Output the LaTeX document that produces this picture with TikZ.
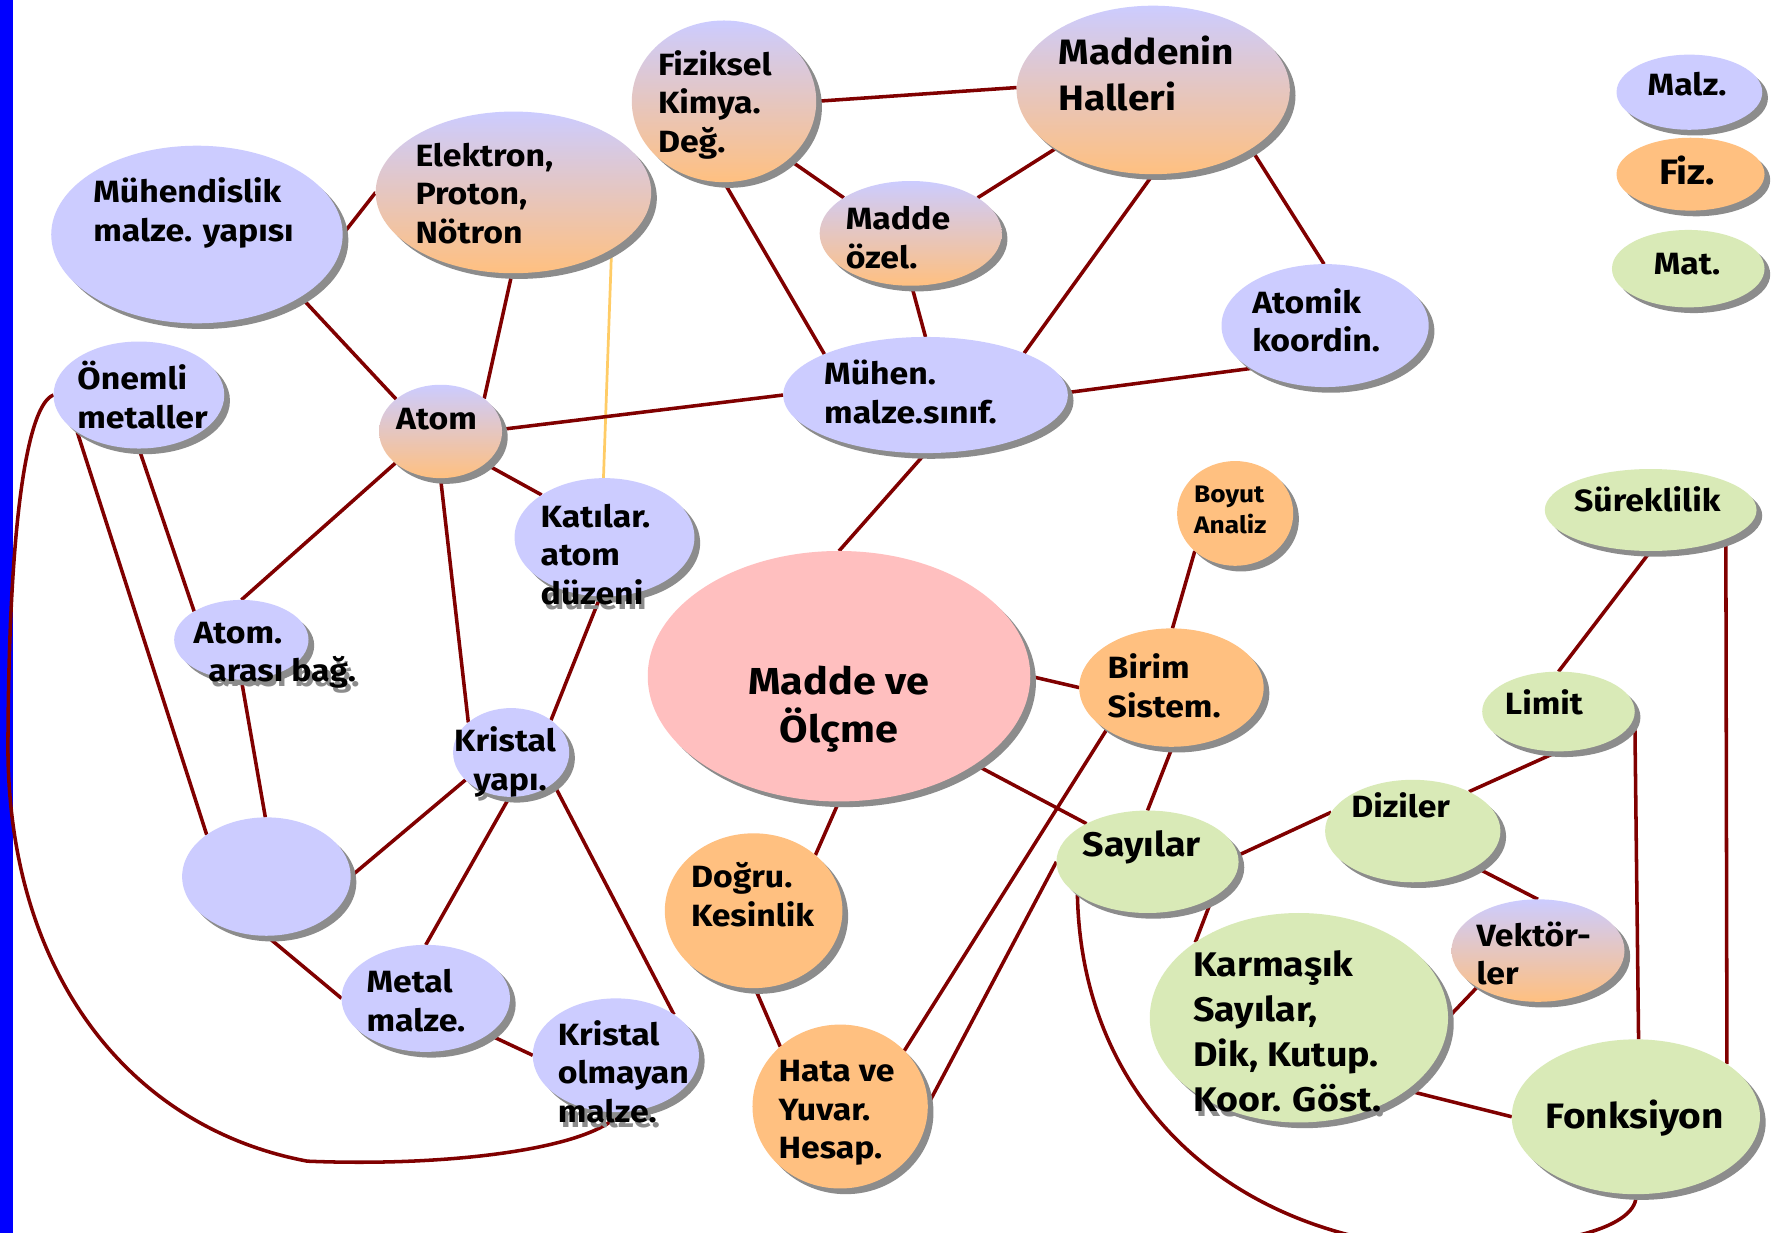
\documentclass[tikz,border=0pt]{standalone}
\usepackage{fontspec}
\setmainfont{Fira Sans}[FakeStretch=1.1]
\usetikzlibrary{shapes.geometric,shadows}
\pgfdeclarelayer{bg}\pgfdeclarelayer{tsh}\pgfdeclarelayer{fg}
\pgfsetlayers{bg,tsh,main,fg}
\definecolor{lav}{HTML}{CCCCFF}
\definecolor{ora}{HTML}{FFC080}
\definecolor{pnk}{HTML}{FFBFBF}
\definecolor{grn}{HTML}{D9EAB7}
\definecolor{lnk}{HTML}{800000}
\definecolor{ylw}{HTML}{FFCC66}
\definecolor{shd}{HTML}{8C8C8C}
\definecolor{barblue}{HTML}{0000FF}
\newcommand\ml[1]{\begin{tabular}[t]{@{}l@{}}#1\end{tabular}}
\newcommand\mc[1]{\begin{tabular}[t]{@{}c@{}}#1\end{tabular}}
\newcommand\lbl[4]{%
  \begin{pgfonlayer}{tsh}\node[tshadow,#1] (#2-s) at (#3) {#4};\end{pgfonlayer}%
  \begin{pgfonlayer}{fg}\node[txt,#1] (#2) at (#3) {#4};\end{pgfonlayer}}
\tikzset{
  bub/.style={ellipse, inner sep=0pt, outer sep=0pt, draw=none,
    drop shadow={shadow xshift=5pt, shadow yshift=-5pt, fill=shd, opacity=1}},
  lavb/.style={bub, fill=lav},
  orab/.style={bub, fill=ora},
  grnb/.style={bub, fill=grn},
  pnkb/.style={bub, fill=pnk},
  grdb/.style={bub, top color=lav, bottom color=ora},
  sz/.style 2 args={minimum width=#1, minimum height=#2},
  txt/.style={inner sep=0pt, outer sep=0pt, anchor=base west, text=black,
    font=\bfseries\fontsize{27}{34}\selectfont},
  tshadow/.style={txt, text=shd, xshift=3pt, yshift=-4pt},
  lk/.style={draw=lnk, line width=3.1pt},
  yl/.style={draw=ylw, line width=2.4pt}
}
\begin{document}
\begin{tikzpicture}[x=1pt,y=-1pt]
\useasboundingbox (0,0) rectangle (1568,1083);
\begin{pgfonlayer}{bg}
\fill[white] (0,0) rectangle (1568,1083);
\fill[barblue] (0,0) rectangle (11.5,1083);
\end{pgfonlayer}

% bubbles
\node[lavb, sz={256pt}{156pt}] (muh) at (173,206) {};
\node[grdb, sz={242pt}{142pt}] (elek) at (451,169) {};
\node[grdb, sz={162pt}{142pt}] (fiz) at (636,89) {};
\node[grdb, sz={240pt}{148pt}] (mh) at (1013,79) {};
\node[grdb, sz={160pt}{92pt}] (mo) at (800,205) {};
\node[lavb, sz={182pt}{108pt}] (ak) at (1164,286) {};
\node[lavb, sz={250pt}{102pt}] (ms) at (813,347) {};
\node[lavb, sz={150pt}{94pt}] (om) at (122,347) {};
\node[grdb, sz={108pt}{82pt}] (atom) at (387,379) {};
\node[lavb, sz={158pt}{104pt}] (kat) at (531,472) {};
\node[lavb, sz={118pt}{70pt}] (aab) at (212,562) {};
\node[lavb, sz={102pt}{78pt}] (ks) at (449,661) {};
\node[lavb, sz={148pt}{104pt}] (bl) at (234,770) {};
\node[lavb, sz={148pt}{94pt}] (mm) at (374,877) {};
\node[lavb, sz={146pt}{100pt}] (ko) at (541,927) {};
\node[pnkb, sz={336pt}{220pt}] (mve) at (737,594) {};
\node[orab, sz={102pt}{92pt}] (ba) at (1085,451) {};
\node[orab, sz={162pt}{104pt}] (bs) at (1029,604) {};
\node[grnb, sz={160pt}{90pt}] (sa) at (1008,757) {};
\node[grnb, sz={154pt}{90pt}] (dz) at (1241,730) {};
\node[grnb, sz={134pt}{70pt}] (lim) at (1369,625) {};
\node[grnb, sz={186pt}{72pt}] (sur) at (1450,448) {};
\node[grdb, sz={152pt}{90pt}] (vek) at (1351,835) {};
\node[grnb, sz={262pt}{184pt}] (kar) at (1141,894) {};
\node[grnb, sz={218pt}{136pt}] (fon) at (1437,981) {};
\node[orab, sz={156pt}{136pt}] (dog) at (662,800) {};
\node[orab, sz={154pt}{144pt}] (hata) at (738,972) {};
\node[lavb, sz={128pt}{66pt}] (lm) at (1484,81) {};
\node[orab, sz={130pt}{64pt}] (lf) at (1485,153) {};
\node[grnb, sz={134pt}{68pt}] (lt) at (1483,236) {};

% texts
\lbl{}{muh-t}{82,178}{\ml{Mühendislik\\malze. yapısı}}
\lbl{}{elek-t}{365,146}{\ml{Elektron,\\Proton,\\Nötron}}
\lbl{}{fiz-t}{578,66}{\ml{Fiziksel\\Kimya.\\Değ.}}
\lbl{font=\bfseries\fontsize{31}{40}\selectfont}{mh-t}{930,57}{\ml{Maddenin\\Halleri}}
\lbl{}{mo-t}{743,202}{\ml{Madde\\özel.}}
\lbl{}{ak-t}{1100,275}{\ml{Atomik\\koordin.}}
\lbl{}{ms-t}{724,338}{\ml{Mühen.\\malze.sınıf.}}
\lbl{}{om-t}{68,342}{\ml{Önemli\\metaller}}
\lbl{}{atom-t}{348,377}{Atom}
\lbl{}{kat-t}{475,463}{\ml{Katılar.\\atom\\düzeni}}
\lbl{}{aab-t}{170,565}{\ml{Atom.\\\hspace*{13pt}arası bağ.}}
\lbl{}{ks-t}{399,660}{\ml{Kristal\\\hspace*{17pt}yapı.}}
\lbl{}{mm-t}{322,872}{\ml{Metal\\malze.}}
\lbl{}{ko-t}{490,918}{\ml{Kristal\\olmayan\\malze.}}
\lbl{anchor=base,font=\bfseries\fontsize{33}{40}\selectfont}{mve-t}{737,610}{\mc{Madde ve\\Ölçme}}
\lbl{font=\bfseries\fontsize{21}{28}\selectfont}{ba-t}{1049,441}{\ml{Boyut\\Analiz}}
\lbl{}{bs-t}{973,596}{\ml{Birim\\Sistem.}}
\lbl{font=\bfseries\fontsize{30}{36}\selectfont}{sa-t}{951,752}{Sayılar}
\lbl{}{dz-t}{1187,718}{Diziler}
\lbl{}{lim-t}{1322,628}{Limit}
\lbl{anchor=base}{sur-t}{1447,449}{Süreklilik}
\lbl{}{vek-t}{1297,831}{\ml{Vektör-\\ler}}
\lbl{font=\bfseries\fontsize{30}{39.5}\selectfont}{kar-t}{1048,858}{\ml{Karmaşık\\Sayılar,\\Dik, Kutup.\\Koor. Göst.}}
\lbl{anchor=base,font=\bfseries\fontsize{31}{36}\selectfont}{fon-t}{1436,991}{Fonksiyon}
\lbl{}{dog-t}{607,780}{\ml{Doğru.\\Kesinlik}}
\lbl{}{hata-t}{684,950}{\ml{Hata ve\\Yuvar.\\Hesap.}}
\lbl{anchor=base}{lm-t}{1482,84}{Malz.}
\lbl{anchor=base,font=\bfseries\fontsize{31}{36}\selectfont}{lf-t}{1482,162}{Fiz.}
\lbl{anchor=base}{lt-t}{1482,241}{Mat.}

% connectors
\begin{pgfonlayer}{bg}
\draw[lk] (muh.0) -- (elek.180);
\draw[lk] (muh.-31) -- (atom.144);
\draw[lk] (elek.-91) -- (atom.37);
\draw[yl] (elek.-30) -- (kat.91);
\draw[lk] (fiz.0) -- (mh.179);
\draw[lk] (fiz.-42) -- (mo.152);
\draw[lk] (fiz.-90) -- (ms.158);
\draw[lk] (mh.-149) -- (mo.28);
\draw[lk] (mh.-90) -- (ms.23);
\draw[lk] (mh.-31) -- (ak.91);
\draw[lk] (mo.-89) -- (ms.90);
\draw[lk] (atom.2) -- (ms.180);
\draw[lk] (ms.1) -- (ak.-150);
\draw[lk] (ms.-90) -- (mve.90);
\draw[lk] (atom.-36) -- (kat.146);
\draw[lk] (atom.-145) -- (aab.90);
\draw[lk] (atom.-90) -- (ks.145);
\draw[lk] (om.-90) -- (aab.149);
\draw[lk] (om.-149) -- (bl.145);
\draw[lk] (om.180) .. controls (25,355) and (8,450) .. (7,650)
   .. controls (5,850) and (110,990) .. (270,1020)
   .. controls (390,1025) and (520,1010) .. (ko.-85);
\draw[lk] (aab.-90) -- (bl.91);
\draw[lk] (kat.-94) -- (ks.39);
\draw[lk] (ks.-149) -- (bl.0);
\draw[lk] (ks.-92) -- (mm.90);
\draw[lk] (ks.-36) -- (ko.35);
\draw[lk] (bl.-90) -- (mm.180);
\draw[lk] (mm.-30) -- (ko.180);
\draw[lk] (mve.0) -- (bs.180);
\draw[lk] (mve.-33) -- (sa.148);
\draw[lk] (mve.-90) -- (dog.42);
\draw[lk] (dog.-89) -- (hata.135);
\draw[lk] (ba.-137) -- (bs.89);
\draw[lk] (bs.-89) -- (sa.90);
\draw[lk] (bs.-147) -- (hata.41);
\draw[lk] (sa.180) -- (hata.1);
\draw[lk] (sa.4) -- (dz.167);
\draw[lk] (sa.-29) -- (kar.144);
\draw[lk] (sa.-155) .. controls (950,960) and (1070,1075) .. (1240,1095)
   .. controls (1380,1100) and (1440,1075) .. (fon.-90);
\draw[lk] (dz.35) -- (lim.-90);
\draw[lk] (dz.-30) -- (vek.90);
\draw[lk] (lim.90) -- (sur.-90);
\draw[lk] (vek.-149) -- (kar.0);
\draw[lk] (kar.-34) -- (fon.180);
\draw[lk] (lim.0) -- (fon.88);
\draw[lk] (sur.-21) -- (fon.30);
\end{pgfonlayer}
\end{tikzpicture}
\end{document}
